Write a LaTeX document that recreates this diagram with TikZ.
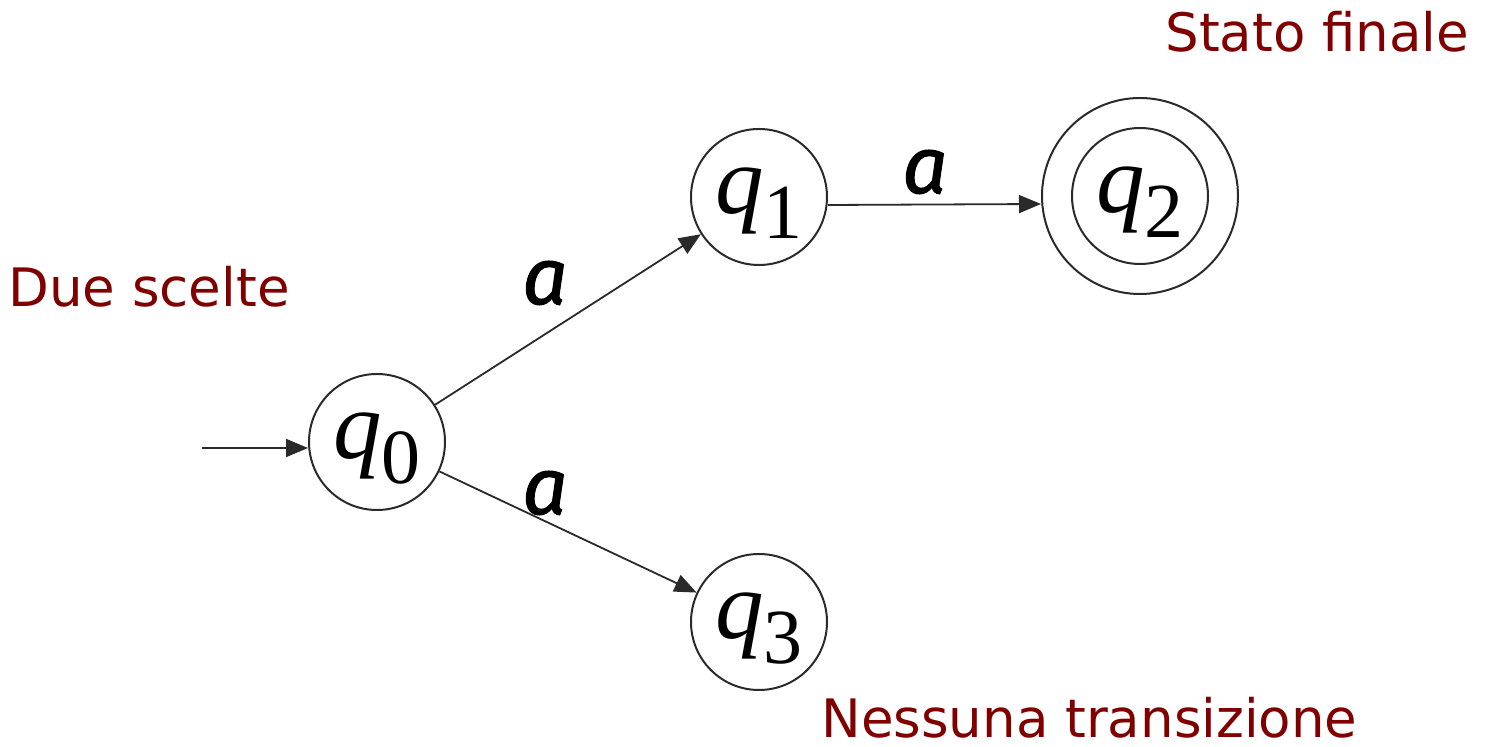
\documentclass[tikz,border=0pt]{standalone}
\usepackage{fontspec}
\usetikzlibrary{arrows.meta}
\newfontfamily\qfont{Liberation Serif}
\newfontfamily\afont[FakeBold=1.2]{Fira Sans}
\newfontfamily\lblfont{DejaVu Sans}
\definecolor{darkred}{HTML}{800000}
\definecolor{linegray}{HTML}{2A2A2A}
\newcommand\qlab[1]{\raisebox{-3.5pt}[22.3pt][12.5pt]{\qfont\fontsize{48.5}{48.5}\selectfont\itshape q\upshape\fontsize{39}{39}\selectfont\raisebox{-12.5pt}{#1}}}
\begin{document}
\begin{tikzpicture}[x=0.5pt,y=-0.5pt,
  state/.style={circle,draw=linegray,line width=1pt,minimum size=68pt,inner sep=0pt},
  accept/.style={circle,draw=linegray,line width=1pt,minimum size=98pt,inner sep=0pt},
  trans/.style={draw=linegray,line width=0.9pt,-{Triangle[length=11pt,width=9pt]}},
  sym/.style={font=\afont\itshape\fontsize{40}{40}\selectfont},
  note/.style={text=darkred,font=\lblfont\fontsize{26.5}{26.5}\selectfont,inner sep=0pt}]
\useasboundingbox (0,0) rectangle (1490,747);
\node[state] (q0) at (377,442) {\qlab{0}};
\node[state] (q1) at (759,197) {\qlab{1}};
\node[accept] (q2) at (1140,196) {};
\node[state] (q2in) at (1140,196) {\qlab{2}};
\node[state] (q3) at (759,622) {\qlab{3}};
\coordinate (init) at (202,448);
\draw[trans] (init) -- (init -| q0.west);
\draw[trans] (q0) -- (q1);
\draw[trans] ([yshift=-4pt]q1.east) -- ([yshift=-4pt]q2.west);
\draw[trans] (q0) -- (q3);
\node[sym] (a1) at (545,283) {a};
\node[sym] (a2) at (545,493) {a};
\node[sym] (a3) at (925,172) {a};
\node[note,anchor=base west] (n1) at (1165,52) {Stato finale};
\node[note,anchor=base west] (n2) at (8,307) {Due scelte};
\node[note,anchor=base west] (n3) at (821,738) {Nessuna transizione};
\end{tikzpicture}
\end{document}
